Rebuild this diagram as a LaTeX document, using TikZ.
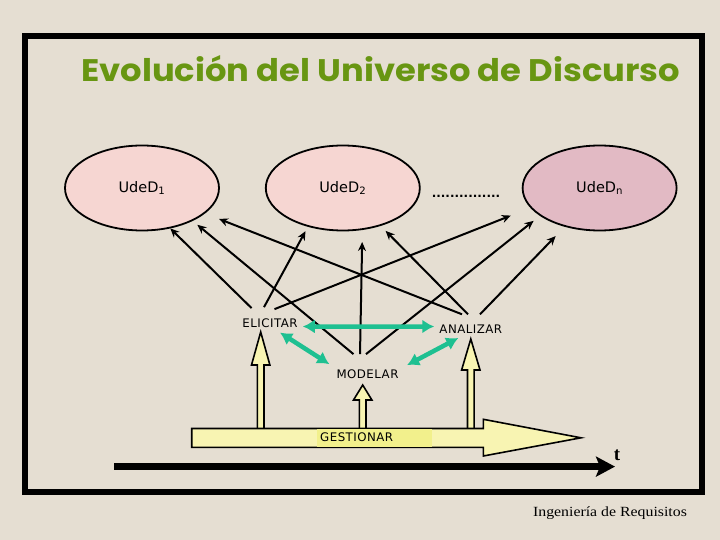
\documentclass[tikz,border=0pt]{standalone}
\usepackage{graphicx}
\usepackage{fontspec}
\setmainfont{DejaVu Sans}
\newfontfamily\titlefont{Poppins}
\newfontfamily\labelfont[LetterSpace=4]{DejaVu Sans}
\newfontfamily\footfont{Liberation Serif}
\usepackage{xcolor}
\usepackage{tikz}
\usetikzlibrary{shapes.geometric,arrows.meta,positioning,calc}
\definecolor{paper}{RGB}{229,222,210}
\definecolor{titlegreen}{RGB}{104,150,18}
\definecolor{udpink}{RGB}{246,214,210}
\definecolor{udrose}{RGB}{226,186,196}
\definecolor{linkgreen}{RGB}{30,192,145}
\definecolor{paleyellow}{RGB}{248,244,178}
\definecolor{brightyellow}{RGB}{242,240,140}

\begin{document}
\begin{tikzpicture}[
    x=1bp, y=-1bp,
    udd/.style={ellipse, draw, line width=1.8bp, fill=udpink, minimum width=154bp,
                minimum height=85bp, inner sep=0pt, font=\fontsize{14.5bp}{17bp}\selectfont},
    lbl/.style={inner sep=0pt, font=\labelfont\fontsize{11.8bp}{14bp}\selectfont},
    arrow/.style={-{Stealth[length=9bp,width=8bp]}, line width=2bp},
    link/.style={{Latex[length=12bp,width=14bp]}-{Latex[length=12bp,width=14bp]},
                 line width=4.5bp, draw=linkgreen},
    hollow/.style={draw, line width=1.6bp, fill=paleyellow},
]

% Background and frame
\fill[paper] (0,0) rectangle (720,540);
\useasboundingbox (0,0) rectangle (720,540);
\draw[line width=6bp] (24.5,36.5) rectangle (701.8,492);

% Title
\node[anchor=base west, inner sep=0pt, text=titlegreen] (title) at (81,82)
    {\resizebox{599bp}{26bp}{\titlefont\bfseries Evolución del Universo de Discurso}};

% Universes of discourse
\node[udd] (u1) at (142,188) {UdeD\textsubscript{1}};
\node[udd, right=45bp of u1] (u2) {UdeD\textsubscript{2}};
\node[udd, fill=udrose, right=101bp of u2] (un) {UdeD\textsubscript{n}};
\node[anchor=base, inner sep=0pt, font=\bfseries\fontsize{12bp}{16bp}\selectfont] (dots)
    at (466,198) {...............};

% Activities
\node[lbl] (elicitar) at (270,323.7) {ELICITAR};
\node[lbl] (analizar) at (470.8,329.5) {ANALIZAR};
\node[lbl] (modelar) at (367.5,374.3) {MODELAR};

% Arrows to the universes
\draw[arrow] ([xshift=-18.4bp,yshift=10.9bp]elicitar.north) -- (u1.-55);
\draw[arrow, shorten >=5bp] ([xshift=-6bp,yshift=11.9bp]elicitar.north) -- (u2.-132);
\draw[arrow, shorten >=21bp] ([xshift=4.5bp,yshift=9.9bp]elicitar.north) -- (un.-164);
\draw[arrow, shorten >=6bp] ([xshift=-14bp,yshift=15.5bp]modelar.north) -- (u1.-33);
\draw[arrow, shorten >=12bp] ([xshift=-7.5bp,yshift=15.5bp]modelar.north) -- (u2.-65);
\draw[arrow, shorten >=8bp] ([xshift=-1.5bp,yshift=15.5bp]modelar.north) -- (un.-155);
\draw[arrow, shorten >=15bp] ([xshift=-8.8bp,yshift=10.7bp]analizar.north) -- (u1.-22);
\draw[arrow, shorten >=7bp] ([xshift=-2.8bp,yshift=10.7bp]analizar.north) -- (u2.-45);
\draw[arrow, shorten >=13bp] ([xshift=9.2bp,yshift=10.7bp]analizar.north) -- (un.-132);

% Links between activities
\draw[link] ([xshift=5bp,yshift=-2.8bp]elicitar.east) -- ([xshift=-5bp,yshift=3bp]analizar.west);
\draw[link] ([xshift=10bp,yshift=-4.2bp]elicitar.south) -- ([xshift=-7bp,yshift=5.5bp]modelar.north west);
\draw[link] ([xshift=-12.5bp,yshift=-4bp]analizar.south) -- ([xshift=8.4bp,yshift=4.5bp]modelar.north east);

% Management arrows
\draw[hollow] (257.4,428.5) -- (257.4,365) -- (251.5,365) -- (260.7,332) -- (269.9,365) -- (264,365) -- (264,428.5);
\draw[hollow] (359.4,428.5) -- (359.4,400) -- (353.5,400) -- (362.7,385) -- (371.9,400) -- (366,400) -- (366,428.5);
\draw[hollow] (467.5,428.5) -- (467.5,370) -- (461.6,370) -- (470.8,339) -- (480,370) -- (474.1,370) -- (474.1,428.5);

\draw[hollow] (191.7,428.5) -- (483.3,428.5) -- (483.3,419.3) -- (581,437.8)
    -- (483.3,456) -- (483.3,447.3) -- (191.7,447.3) -- cycle;
\fill[brightyellow] (316.7,429.3) rectangle (431.7,446.5);
\node[lbl, anchor=west] (gest) at (320,437.5) {GESTIONAR};

% Time axis
\coordinate (tstart) at (114,466.6);
\coordinate (tend) at (615,466.6);
\draw[line width=6.5bp, -{Stealth[length=19bp,width=20bp,inset=4bp]}] (tstart) -- (tend);
\node[font=\footfont\bfseries\fontsize{19bp}{20bp}\selectfont] (t) at (617,455) {t};

% Footer
\node[anchor=base, inner sep=0pt, font=\footfont\fontsize{14bp}{16bp}\selectfont] (foot)
    at (610,516) {\scalebox{1.13}[1]{Ingeniería de Requisitos}};

\end{tikzpicture}
\end{document}
